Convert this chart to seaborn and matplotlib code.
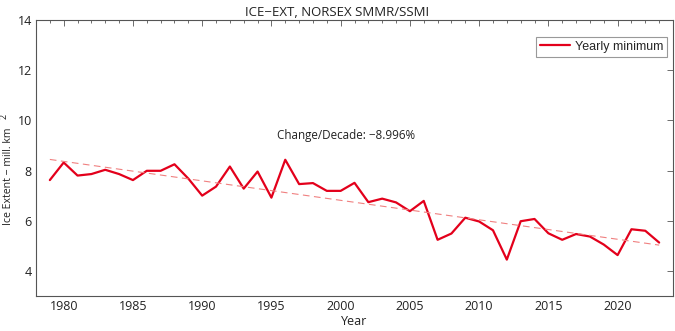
import numpy as np
import pandas as pd
import matplotlib
matplotlib.use("Agg")
import matplotlib.pyplot as plt
import seaborn as sns
from matplotlib.ticker import MultipleLocator

# Yearly minimum sea-ice extent (million km^2)
years = list(range(1979, 2024))
extent = [7.62, 8.32, 7.80, 7.86, 8.03, 7.86, 7.62, 7.99, 7.99, 8.25,
          7.68, 7.00, 7.36, 8.16, 7.28, 7.96, 6.92, 8.43, 7.46, 7.50,
          7.19, 7.19, 7.51, 6.74, 6.88, 6.73, 6.38, 6.79, 5.24, 5.49,
          6.12, 5.97, 5.62, 4.45, 5.98, 6.07, 5.50, 5.24, 5.47, 5.37,
          5.05, 4.63, 5.66, 5.60, 5.13]
title = "ICE\u2212EXT, NORSEX SMMR/SSMI"
trend_text = "Change/Decade: \u22128.996%"
series_label = "Yearly minimum"

df = pd.DataFrame({"Year": years, "Extent": extent})
coef = np.polyfit(df["Year"], df["Extent"], 1)
df["Trend"] = np.polyval(coef, df["Year"])

sns.set_style("white")
plt.rcParams["font.family"] = ["Open Sans", "DejaVu Sans"]

fig = plt.figure(figsize=(6.75, 3.31), dpi=100)
ax = fig.add_axes([36 / 675, 35 / 331, 637 / 675, 276 / 331])

red = "#e3001b"
sns.lineplot(data=df, x="Year", y="Extent", ax=ax, color=red, lw=1.6,
             label=series_label)
sns.lineplot(data=df, x="Year", y="Trend", ax=ax, color="#f08080", lw=0.8,
             dashes=False, linestyle=(0, (6, 4)), label="_nolegend_")

ax.set_xlim(1978, 2024)
ax.set_ylim(3, 14)
ax.set_yticks([4, 6, 8, 10, 12, 14])
ax.xaxis.set_major_locator(MultipleLocator(5))
ax.xaxis.set_minor_locator(MultipleLocator(1))
ax.set_xticks(range(1980, 2021, 5))

axis_col = "#555555"
for s in ax.spines.values():
    s.set_color(axis_col)
    s.set_linewidth(0.8)
ax.tick_params(which="both", direction="in", top=True, right=True,
               color=axis_col, labelsize=9, labelcolor="#222222", pad=3)
ax.tick_params(which="major", length=4, width=0.6)
ax.tick_params(which="minor", length=2.5, width=0.6)

ax.set_xlabel("Year", fontsize=9, color="#222222", labelpad=1)
ax.set_ylabel("")
fig.text(9 / 675, 1 - 176 / 331, "Ice Extent \u2212 mill. km", rotation=90,
         ha="center", va="center", fontsize=7.6, color="#222222")
fig.text(4 / 675, 1 - 116 / 331, "2", rotation=90, ha="center", va="center",
         fontsize=6.5, color="#222222")

fig.text(0.5, 1 - 12 / 331, title, ha="center", va="center", fontsize=9.5,
         color="#222222")
ax.text(2000.4, 9.38, trend_text, ha="center", va="center", fontsize=8.4,
        color="#222222")

leg = ax.legend(loc="upper right", bbox_to_anchor=(0.9906, 0.938),
                frameon=True, fancybox=False, framealpha=1,
                edgecolor="#999999", handlelength=2.4, handletextpad=0.4,
                borderpad=0.3, borderaxespad=0,
                prop={"family": "Liberation Sans", "size": 9})
leg.get_frame().set_linewidth(0.8)

fig.savefig("out.png", dpi=100)
